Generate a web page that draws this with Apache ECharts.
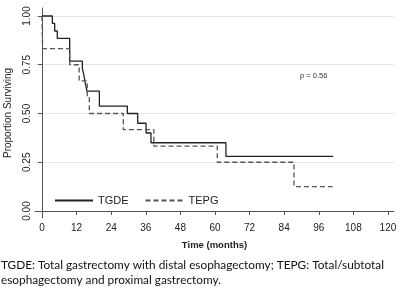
<!DOCTYPE html>
<html><head><meta charset="utf-8">
<script src="https://cdn.jsdelivr.net/npm/echarts@6/dist/echarts.min.js"></script>
<style>html,body{margin:0;padding:0;background:#fff}#c{width:406px;height:295px}</style>
</head><body><div id="c"></div>
<script>
// Kaplan-Meier step data (time in months, proportion surviving)
var tgdeT = [0, 3.6, 4.4, 5.3, 9.6, 14.0, 14.6, 15.0, 15.6, 19.9, 29.6, 33.2, 36.1, 37.8, 63.8, 101];
var tgdeS = [1, 0.962, 0.923, 0.885, 0.769, 0.731, 0.692, 0.654, 0.615, 0.538, 0.5, 0.45, 0.40, 0.35, 0.28, 0.28];
var tepgT = [0, 0.2, 9.6, 12.9, 15.7, 16.4, 28.2, 38.8, 60.8, 87.4, 100.8];
var tepgS = [1, 0.833, 0.75, 0.667, 0.583, 0.5, 0.417, 0.333, 0.25, 0.125, 0.125];
var xTicks = [0, 12, 24, 36, 48, 60, 72, 84, 96, 108, 120];
var yTicks = [0, 0.25, 0.5, 0.75, 1];
var seriesNames = ['TGDE', 'TEPG'];
var pText = 'p = 0.56';
var caption1 = 'TGDE: Total gastrectomy with distal esophagectomy; TEPG: Total/subtotal';
var caption2 = 'esophagectomy and proximal gastrectomy.';

function pairs(t, s) { return t.map(function (v, i) { return [v, s[i]]; }); }

var font = '"Liberation Sans", Arial, sans-serif';
var chart = echarts.init(document.getElementById('c'), null, {renderer: 'canvas'});
chart.setOption({
  animation: false,
  backgroundColor: '#fff',
  grid: {left: 35, right: 12, top: 8, bottom: 77, containLabel: false, outerBoundsMode: 'none'},
  xAxis: {
    type: 'value', min: -2.43, max: 122.1,
    name: 'Time (months)', nameLocation: 'middle', nameGap: 22,
    nameTextStyle: {fontFamily: font, fontSize: 9.5, color: '#222', fontWeight: 'bold'},
    axisLine: {lineStyle: {color: '#555', width: 1}},
    axisTick: {show: true, length: 4, lineStyle: {color: '#555'}, customValues: xTicks},
    axisLabel: {customValues: xTicks, fontFamily: font, fontSize: 10, color: '#222', margin: 5},
    splitLine: {show: false}
  },
  yAxis: {
    type: 'value', min: -0.0359, max: 1.041,
    name: 'Proportion Surviving', nameLocation: 'middle', nameGap: 22, nameRotate: 90,
    nameTextStyle: {fontFamily: font, fontSize: 10, color: '#222'},
    axisLine: {show: true, lineStyle: {color: '#555', width: 1}},
    axisTick: {show: true, length: 4, lineStyle: {color: '#555'}, customValues: yTicks},
    axisLabel: {customValues: yTicks, rotate: 90, fontFamily: font, fontSize: 10, color: '#222', margin: 3,
      formatter: function (v) { return v.toFixed(2); }},
    splitLine: {show: true, lineStyle: {color: '#e6e6e6', width: 1}}
  },
  legend: {
    left: 49, top: 190, itemWidth: 38, itemHeight: 14, itemGap: 16,
    itemStyle: {opacity: 0},
    textStyle: {fontFamily: font, fontSize: 11, color: '#222', padding: [0, 0, 0, 0]},
    data: seriesNames
  },
  series: [
    {name: seriesNames[0], type: 'line', step: 'end', symbol: 'none', data: pairs(tgdeT, tgdeS),
     lineStyle: {color: '#222', width: 1.3, type: 'solid'}, itemStyle: {color: '#222'}},
    {name: seriesNames[1], type: 'line', step: 'end', symbol: 'none', data: pairs(tepgT, tepgS),
     lineStyle: {color: '#555', width: 1.3, type: [5, 3]}, itemStyle: {color: '#555'}}
  ],
  graphic: [
    {type: 'text', left: 300, top: 72, style: {text: pText, fontFamily: font, fontSize: 7.5, fill: '#333'}},
    {type: 'text', left: 1, top: 259, style: {text: caption1, fontFamily: 'Lato, sans-serif', fontSize: 11.8, fill: '#111'}},
    {type: 'text', left: 1, top: 274, style: {text: caption2, fontFamily: 'Lato, sans-serif', fontSize: 11.8, fill: '#111'}}
  ]
});
</script></body></html>
